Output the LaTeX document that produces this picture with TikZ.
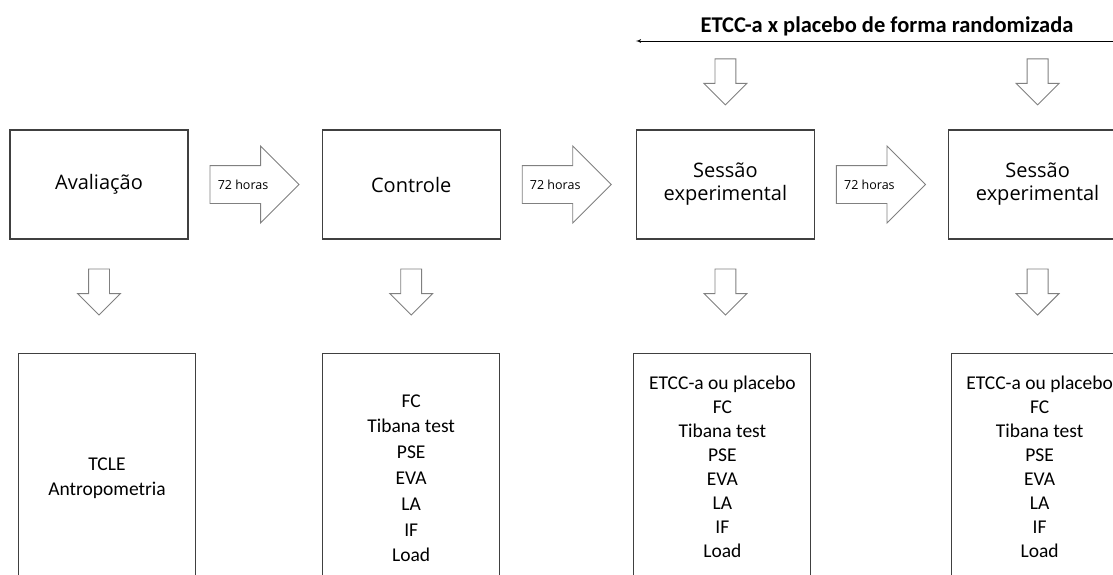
\documentclass[tikz,border=0pt]{standalone}
\usepackage{fontspec}
\setmainfont{Carlito}
\newfontfamily\boxfont{Open Sans}
\usetikzlibrary{shapes,arrows}
\usetikzlibrary{positioning}

\definecolor{boxgray}{RGB}{64,64,64}
\definecolor{arrgray}{RGB}{128,128,128}

\tikzset{
  stage/.style={draw=boxgray, line width=1.1pt, minimum width=178pt, minimum height=109pt,
    inner sep=0pt, align=center, font=\boxfont\fontsize{20}{23}\selectfont},
  measures/.style={draw=boxgray, line width=1.1pt, minimum width=177pt, minimum height=250pt,
    inner sep=0pt, align=center, font=\fontsize{19.5}{25.8}\selectfont},
  rarrow/.style={single arrow, draw=arrgray, line width=0.9pt, minimum height=89pt,
    inner xsep=0pt, inner ysep=18.5pt, single arrow head extend=19.5pt, single arrow tip angle=90},
  darrow/.style={single arrow, shape border rotate=270, draw=arrgray, line width=0.9pt,
    minimum height=46pt, inner sep=10pt, single arrow head extend=11pt,
    single arrow tip angle=90},
  hrs/.style={inner sep=0pt, font=\boxfont\fontsize{12.5}{14}\selectfont}
}

\begin{document}
\begin{tikzpicture}[x=1pt, y=-1pt, node distance=24pt, >=latex']
\useasboundingbox (0,0) rectangle (1113,575);
\clip (0,0) rectangle (1113,575);

% etapas
\node[stage] (aval) at (99,184.5) {Avaliação};
\node[rarrow, right=21pt of aval] (a1) {};
\node[hrs, right=8pt of a1.west] (h1) {72 horas};
\node[stage, right=22pt of a1] (ctrl) {Controle};
\node[rarrow, right=21pt of ctrl] (a2) {};
\node[hrs, right=8pt of a2.west] (h2) {72 horas};
\node[stage, right=24pt of a2] (sess1) {Sessão\\experimental};
\node[rarrow, right=21pt of sess1] (a3) {};
\node[hrs, right=8pt of a3.west] (h3) {72 horas};
\node[stage, right=22pt of a3] (sess2) {Sessão\\experimental};

% randomizacao
\coordinate (rnd) at (1125,41);
\draw[->, line width=0.8pt] (rnd) -- (rnd -| sess1.west);
\node[font=\bfseries\fontsize{22.5}{26}\selectfont] (ttl) at (887,26) {ETCC-a x placebo de forma randomizada};
\node[darrow, above=24pt of sess1] (r1) {};
\node[darrow, above=24pt of sess2] (r2) {};

% medidas
\node[darrow, below=29pt of aval] (d1) {};
\node[darrow, below=29pt of ctrl] (d2) {};
\node[darrow, below=29pt of sess1] (d3) {};
\node[darrow, below=29pt of sess2] (d4) {};

\node[measures, below=37pt of d1, xshift=8pt] (m1) {TCLE\\Antropometria};
\node[measures, below=37pt of d2] (m2) {FC\\Tibana test\\PSE\\EVA\\LA\\IF\\Load};
\node[measures, minimum height=228pt, font=\fontsize{19.5}{24}\selectfont,
  below=37pt of d3, xshift=-3pt] (m3) {ETCC-a ou placebo\\FC\\Tibana test\\PSE\\EVA\\LA\\IF\\Load};
\node[measures, minimum height=228pt, font=\fontsize{19.5}{24}\selectfont,
  below=37pt of d4, xshift=2pt] (m4) {ETCC-a ou placebo\\FC\\Tibana test\\PSE\\EVA\\LA\\IF\\Load};
\end{tikzpicture}
\end{document}
